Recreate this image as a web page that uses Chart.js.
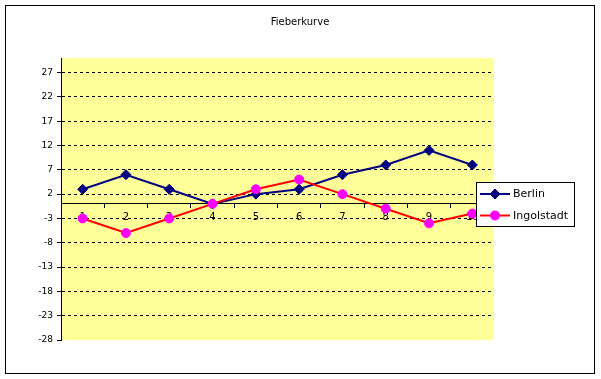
<!DOCTYPE html>
<html><head><meta charset="utf-8">
<script src="https://cdn.jsdelivr.net/npm/chart.js@4/dist/chart.umd.min.js"></script>
<style>html,body{margin:0;padding:0;background:#fff}#wrap{width:601px;height:379px}</style>
</head><body><div id="wrap"><canvas id="c" width="601" height="379"></canvas></div>
<script>
const categories = ['1','2','3','4','5','6','7','8','9','10'];
const berlin = [3,6,3,0,2,3,6,8,11,8];
const ingolstadt = [-3,-6,-3,0,3,5,2,-1,-4,-2];
const yTickValues = [-28,-23,-18,-13,-8,-3,2,7,12,17,22,27];
const seriesNames = ['Berlin','Ingolstadt'];
const chartTitle = 'Fieberkurve';

const FONT = '"DejaVu Sans", sans-serif';

const framePlugin = {
  id: 'frame',
  beforeDraw(chart) {
    const ctx = chart.ctx, a = chart.chartArea;
    ctx.save();
    ctx.fillStyle = '#fff';
    ctx.fillRect(0, 0, chart.width, chart.height);
    ctx.strokeStyle = '#000';
    ctx.lineWidth = 1;
    ctx.strokeRect(5.5, 5.5, 589, 368);
    ctx.fillStyle = '#FFFF99';
    ctx.fillRect(a.left, a.top, a.right - a.left, a.bottom - a.top);
    ctx.fillStyle = '#000';
    ctx.font = '10px ' + FONT;
    ctx.textAlign = 'center';
    ctx.textBaseline = 'middle';
    ctx.fillText(chartTitle, 300, 22);
    ctx.restore();
  },
  afterDraw(chart) {
    const ctx = chart.ctx;
    ctx.save();
    const bx = 476, by = 182, bw = 98, bh = 44;
    ctx.fillStyle = '#fff';
    ctx.fillRect(bx, by, bw, bh);
    ctx.strokeStyle = '#000';
    ctx.lineWidth = 1;
    ctx.strokeRect(bx + 0.5, by + 0.5, bw, bh);
    ctx.font = '11px ' + FONT;
    ctx.textAlign = 'left';
    ctx.textBaseline = 'middle';
    chart.data.datasets.forEach((ds, i) => {
      const y = 194 + i * 21.5;
      ctx.strokeStyle = ds.borderColor;
      ctx.lineWidth = 2;
      ctx.beginPath();
      ctx.moveTo(480, y);
      ctx.lineTo(510, y);
      ctx.stroke();
      ctx.fillStyle = ds.pointBackgroundColor;
      ctx.strokeStyle = ds.pointBorderColor;
      ctx.lineWidth = 1;
      Chart.helpers.drawPoint(ctx, {pointStyle: ds.pointStyle, radius: ds.pointRadius, borderWidth: 1, rotation: 0}, 495, y);
      ctx.fillStyle = '#000';
      ctx.fillText(ds.label, 513, y + 0.5);
    });
    ctx.restore();
  }
};

new Chart(document.getElementById('c'), {
  type: 'line',
  data: {
    labels: categories,
    datasets: [
      {label: seriesNames[0], data: berlin, borderColor: '#000080', borderWidth: 2,
       pointStyle: 'rectRot', pointRadius: 5, pointBackgroundColor: '#000080', pointBorderColor: '#000080',
       pointBorderWidth: 1, tension: 0, order: 1},
      {label: seriesNames[1], data: ingolstadt, borderColor: '#FF0000', borderWidth: 2,
       pointStyle: 'circle', pointRadius: 4.5, pointBackgroundColor: '#FF00FF', pointBorderColor: '#FF00FF',
       pointBorderWidth: 1, tension: 0, order: 0}
    ]
  },
  options: {
    responsive: false,
    animation: false,
    devicePixelRatio: 1,
    layout: {padding: {left: 26, right: 107, top: 58, bottom: 39}},
    plugins: {legend: {display: false}, title: {display: false}, tooltip: {enabled: false}},
    scales: {
      x: {
        type: 'category',
        position: {y: 0},
        offset: true,
        z: 1,
        grid: {display: true, drawOnChartArea: false, drawTicks: true, tickLength: 4, tickColor: '#000', offset: true},
        border: {display: true, color: '#000', width: 1},
        ticks: {color: '#000', font: {family: FONT, size: 10}, padding: 4, maxRotation: 0, autoSkip: false}
      },
      y: {
        min: -28, max: 30,
        afterBuildTicks(scale) { scale.ticks = yTickValues.map(v => ({value: v})); },
        afterFit(scale) { scale.width = 35; },
        grid: {
          color: c => (c.tick && c.tick.value === -28) ? 'rgba(0,0,0,0)' : '#000',
          lineWidth: 1, tickColor: '#000', tickLength: 4, drawTicks: true, tickBorderDash: []
        },
        border: {display: true, color: '#000', width: 1, dash: [3, 3]},
        ticks: {color: '#000', font: {family: FONT, size: 9}, padding: 4}
      }
    }
  },
  plugins: [framePlugin]
});
</script>
</body></html>
